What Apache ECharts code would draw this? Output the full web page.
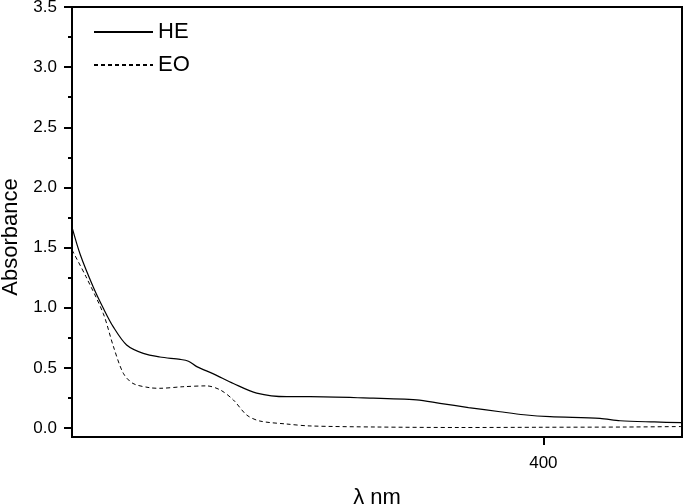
<!DOCTYPE html>
<html>
<head>
<meta charset="utf-8">
<script src="https://cdn.jsdelivr.net/npm/echarts@6/dist/echarts.min.js"></script>
<style>html,body{margin:0;padding:0;background:#fff}#c{width:683px;height:504px}</style>
</head>
<body>
<div id="c"></div>
<script>
var heX = [230, 233, 237.7, 241.3, 244.9, 249.7, 255.7, 261.7, 269, 272, 275, 281, 288.2, 296.6, 307.4, 315.8, 335, 354.3, 362.7, 373, 384.4, 393, 402.4, 420.4, 427.7, 440, 450];
var heY = [1.67, 1.44, 1.17, 0.995, 0.84, 0.69, 0.62, 0.59, 0.57, 0.555, 0.51, 0.45, 0.37, 0.29, 0.26, 0.26, 0.25, 0.233, 0.205, 0.17, 0.135, 0.11, 0.094, 0.08, 0.06, 0.05, 0.044];
var eoX = [230, 235, 241.3, 244.9, 248.5, 252, 258, 261.7, 270, 278.5, 283.5, 288.2, 293, 297.7, 307.4, 315.8, 340, 370, 400, 430, 450];
var eoY = [1.48, 1.26, 0.95, 0.68, 0.455, 0.37, 0.335, 0.33, 0.343, 0.35, 0.316, 0.233, 0.108, 0.058, 0.033, 0.017, 0.008, 0.004, 0.006, 0.008, 0.012];
var yLabels = [0, 0.5, 1, 1.5, 2, 2.5, 3, 3.5];
var yMinor = [0.25, 0.75, 1.25, 1.75, 2.25, 2.75, 3.25];
var xLabels = [400];

function pairs(xs, ys) { return xs.map(function (x, i) { return [x, ys[i]]; }); }

var font = '"Liberation Sans", Arial, sans-serif';
var chart = echarts.init(document.getElementById('c'));
chart.setOption({
  animation: false,
  backgroundColor: '#fff',
  grid: { left: 72, right: 1, top: 7, bottom: 67, show: true, borderColor: '#000', borderWidth: 2,
    containLabel: false, outerBoundsMode: 'none' },
  legend: {
    orient: 'vertical', left: 88, top: 16, itemWidth: 59, itemHeight: 10, itemGap: 11,
    itemStyle: { opacity: 0 },
    textStyle: { fontFamily: font, fontSize: 22, color: '#000' },
    data: ['HE', 'EO']
  },
  xAxis: {
    type: 'value', min: 230, max: 450,
    name: 'λ nm', nameLocation: 'middle', nameGap: 50,
    nameTextStyle: { fontFamily: font, fontSize: 22, color: '#000' },
    axisLine: { onZero: false, lineStyle: { color: '#000', width: 2 } },
    axisTick: { customValues: xLabels, length: 8, lineStyle: { color: '#000', width: 2 } },
    axisLabel: { customValues: xLabels, margin: 18, fontFamily: font, fontSize: 17, color: '#000' },
    splitLine: { show: false }
  },
  yAxis: [{
    type: 'value', min: -0.075, max: 3.5,
    name: 'Absorbance', nameLocation: 'middle', nameGap: 50, nameRotate: 90,
    nameTextStyle: { fontFamily: font, fontSize: 22, color: '#000', padding: [0, 30, 0, 0] },
    axisLine: { onZero: false, lineStyle: { color: '#000', width: 2 } },
    axisTick: { customValues: yLabels, length: 8, lineStyle: { color: '#000', width: 2 } },
    axisLabel: { customValues: yLabels, margin: 15, fontFamily: font, fontSize: 17, color: '#000',
      formatter: function (v) { return v.toFixed(1); } },
    splitLine: { show: false }
  }, {
    type: 'value', min: -0.075, max: 3.5, position: 'left',
    axisLine: { show: false, onZero: false },
    axisTick: { customValues: yMinor, length: 4, lineStyle: { color: '#000', width: 2 } },
    axisLabel: { show: false },
    splitLine: { show: false }
  }],
  series: [{
    name: 'HE', type: 'line', smooth: 0.3, symbol: 'none', yAxisIndex: 0,
    lineStyle: { color: '#000', width: 1.2 },
    itemStyle: { color: '#000' },
    data: pairs(heX, heY)
  }, {
    name: 'EO', type: 'line', smooth: 0.3, symbol: 'none', yAxisIndex: 0,
    lineStyle: { color: '#000', width: 1, type: [4, 3] },
    itemStyle: { color: '#000' },
    data: pairs(eoX, eoY)
  }]
});
</script>
</body>
</html>
